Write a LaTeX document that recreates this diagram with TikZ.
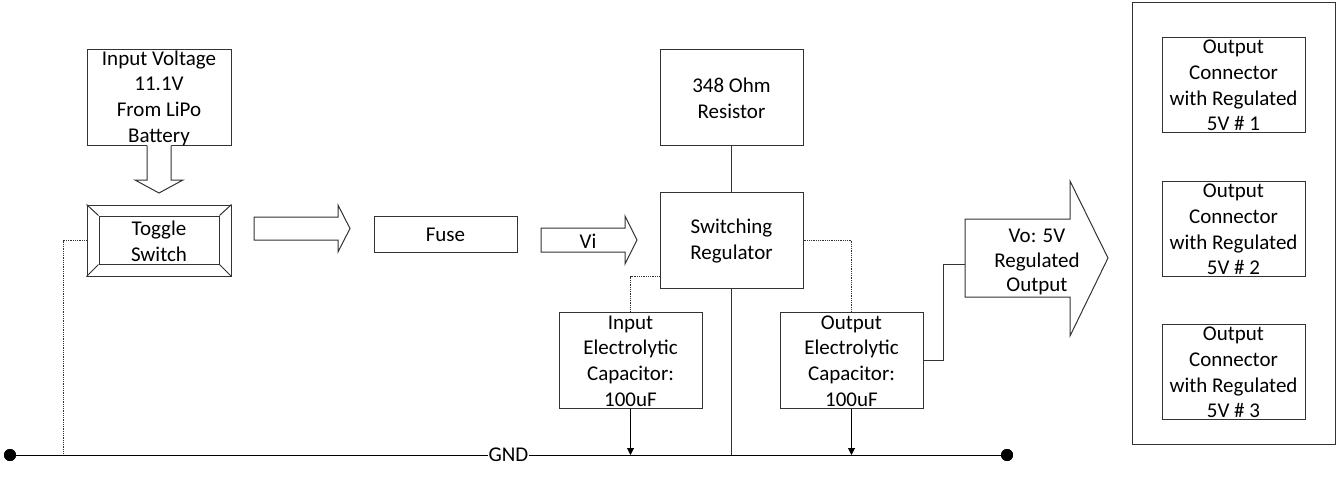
\documentclass[tikz,border=0pt]{standalone}
\usepackage{fontspec}
\setmainfont{Carlito}
\usetikzlibrary{arrows.meta,calc}
\newcommand\fs{\fontsize{21}{25.6}\selectfont}
\tikzset{
  box/.style={draw=black!80, line width=1pt, fill=white, inner sep=0pt, rectangle},
  txt/.style={align=center, font=\fs, inner sep=0pt, text=black, yshift=-1pt},
  ln/.style={draw=black!80, line width=1pt},
  dotline/.style={draw=black!80, line width=0.8pt, densely dotted},
  blockarrow/.style={draw=black!80, line width=1pt, fill=white, line join=miter},
  gnddot/.style={circle, fill=black, inner sep=0pt, minimum size=12pt},
  tip/.style={-{Triangle[length=7pt,width=7pt]}}
}
\begin{document}
\begin{tikzpicture}[x=1pt,y=-1pt]
\useasboundingbox (0,0) rectangle (1339,479);
% GND rail
\node[gnddot] (gl) at (10,455) {};
\node[gnddot] (gr) at (1007,455) {};
\coordinate (tg) at (63,455);
% boxes
\node[box, minimum width=144pt, minimum height=96pt] (inv) at (159,97) {};
\node[txt] at (inv.center) {Input Voltage\\11.1V\\From LiPo\\Battery};
\node[box, minimum width=144pt, minimum height=71pt] (tog) at (159,240.5) {};
\node[box, minimum width=120pt, minimum height=48pt] (togi) at (159,240) {};
\draw[ln] (tog.north west) -- (togi.north west)
          (tog.north east) -- (togi.north east)
          (tog.south west) -- (togi.south west)
          (tog.south east) -- (togi.south east);
\node[txt] at (togi.center) {Toggle\\Switch};
\node[box, minimum width=143pt, minimum height=36pt] (fuse) at (445.5,234) {};
\node[txt] at (fuse.center) {Fuse};
\node[box, minimum width=143pt, minimum height=96pt] (res) at (731.5,97) {};
\node[txt] at (res.center) {348 Ohm\\Resistor};
\node[box, minimum width=143pt, minimum height=96pt] (reg) at (731.5,240) {};
\node[txt] at (reg.center) {Switching\\Regulator};
\node[box, minimum width=143pt, minimum height=96pt] (incap) at (630.5,360) {};
\node[txt] at (incap.center) {Input\\Electrolytic\\Capacitor:\\100uF};
\node[box, minimum width=143pt, minimum height=96pt] (outcap) at (851.5,360) {};
\node[txt] at (outcap.center) {Output\\Electrolytic\\Capacitor:\\100uF};
\node[box, minimum width=203pt, minimum height=442pt] (outbox) at (1233.5,223) {};
\node[box, minimum width=143pt, minimum height=95pt] (oc1) at (1233.5,84.5) {};
\node[txt] at (oc1.center) {Output\\Connector\\with Regulated\\5V \# 1};
\node[box, minimum width=143pt, minimum height=95pt] (oc2) at (1233.5,228.5) {};
\node[txt] at (oc2.center) {Output\\Connector\\with Regulated\\5V \# 2};
\node[box, minimum width=143pt, minimum height=95pt] (oc3) at (1233.5,371.5) {};
\node[txt] at (oc3.center) {Output\\Connector\\with Regulated\\5V \# 3};
% block arrows
\fill[white] (147,144) -- (147,180) -- (135,180) -- (159,193) -- (183,180) -- (171,180) -- (171,144) -- cycle;
\draw[blockarrow] (147,145.5) -- (147,180) -- (135,180) -- (159,193) -- (183,180) -- (171,180) -- (171,145.5);
\draw[blockarrow] (254,217) -- (338,217) -- (338,205) -- (350,228.5) -- (338,252) -- (338,240) -- (254,240) -- cycle;
\draw[blockarrow] (541,228) -- (625,228) -- (625,216) -- (637,240) -- (625,264) -- (625,252) -- (541,252) -- cycle;
\node[txt] (vi) at (588,240) {Vi};
\draw[blockarrow] (965,219) -- (1070,219) -- (1070,181) -- (1108,258) -- (1070,336) -- (1070,297) -- (965,297) -- cycle;
\coordinate (voin) at (965,264);
\node[txt, font=\fontsize{21}{24.5}\selectfont] (vo) at (1037,261) {Vo: 5V\\Regulated\\Output};
% connectors
\draw[ln] (res.south) -- (reg.north);
\draw[ln] (reg.south) -- (reg.south |- gl.center);
\coordinate (rw) at ($(reg.south west)+(0,-12)$);
\draw[dotline] (rw) -| (incap.north);
\draw[dotline] (reg.east) -| (outcap.north);
\draw[dotline] (tog.west) -| (tg);
\draw[ln] (outcap.east) -- ++(20,0) |- (voin);
\draw[ln, draw=black, tip] (incap.south) -- (incap.south |- gl.center);
\draw[ln, draw=black, tip] (outcap.south) -- (outcap.south |- gl.center);
\draw[line width=1pt] (gl.center) -- node[fill=white, inner sep=1pt, font=\fs] (gnd) {GND} (gr.center);
\node[gnddot] at (gl) {};
\node[gnddot] at (gr) {};
\end{tikzpicture}
\end{document}
